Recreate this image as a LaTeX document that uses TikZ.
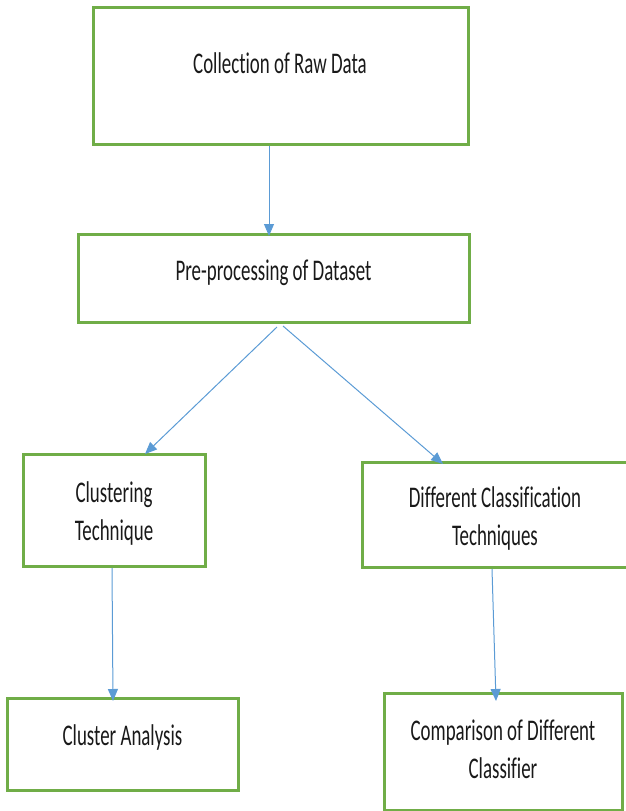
\documentclass[tikz,border=0pt]{standalone}
\usepackage{fontspec}
\setmainfont{Carlito}[FakeStretch=0.63, Ligatures=NoCommon]
\usetikzlibrary{arrows.meta}
\definecolor{boxgreen}{HTML}{70AD47}
\definecolor{arrowblue}{HTML}{5B9BD5}
\tikzset{
  box/.style={draw=boxgreen, line width=3pt, fill=white},
  lbl/.style={anchor=base, align=center, inner sep=0pt, text=black!90,
    font=\fontsize{30}{37.5}\selectfont},
  conn/.style={draw=arrowblue, line width=1pt,
    -{Triangle[length=12pt,width=10pt]}},
}
\begin{document}
\begin{tikzpicture}[x=1pt,y=-1pt]
\useasboundingbox (0,0) rectangle (625,811);
% boxes
\draw[box] (93,7) rectangle (468,144);
\draw[box] (78,234) rectangle (469,322);
\draw[box] (23,454) rectangle (205,566);
\draw[box] (362,462) rectangle (640,567);
\draw[box] (7,698) rectangle (238,790);
\draw[box] (384,693) rectangle (622,810);
% text nodes
\node[lbl] (raw) at (280,73) {Collection of Raw Data};
\node[lbl] (pre) at (273.5,280) {Pre-processing of Dataset};
\node[lbl] (clu) at (114,540) {Clustering\\Technique};
\node[lbl] (cls) at (495,545) {Different Classification\\Techniques};
\node[lbl] (ana) at (122.5,745) {Cluster Analysis};
\node[lbl] (cmp) at (503,778) {Comparison of Different\\Classifier};
% connector ends
\coordinate (a1s) at (269,146);
\coordinate (a1e) at (269,236);
\coordinate (a2s) at (277,327);
\coordinate (a2e) at (145,454);
\coordinate (a3s) at (283,326);
\coordinate (a3e) at (443,464);
\coordinate (a4s) at (112,568);
\coordinate (a4e) at (113,701);
\coordinate (a5s) at (492,569);
\coordinate (a5e) at (496,701);
\draw[conn] (a1s) -- (a1e);
\draw[conn] (a2s) -- (a2e);
\draw[conn] (a3s) -- (a3e);
\draw[conn] (a4s) -- (a4e);
\draw[conn] (a5s) -- (a5e);
\end{tikzpicture}
\end{document}
